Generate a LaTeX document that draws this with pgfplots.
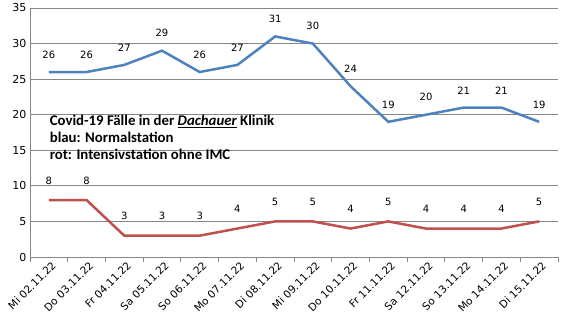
\documentclass[border=0pt]{standalone}
\usepackage{pgfplots}
\pgfplotsset{compat=1.18}
\usepackage{fontspec}
\setmainfont{DejaVu Sans}
\newfontfamily\boxfont{Carlito}
\definecolor{xlblue}{HTML}{4F81BD}
\definecolor{xlred}{HTML}{C0504D}
\definecolor{gridgray}{HTML}{868686}
\begin{document}
\begin{tikzpicture}
\path[use as bounding box] (-30pt,-74pt) rectangle (535pt,257pt);
\begin{axis}[
  at={(0,0)}, anchor=origin,
  scale only axis, width=528pt, height=249pt,
  xmin=0, xmax=14, ymin=0, ymax=35,
  ytick={0,5,...,35},
  ymajorgrids, major grid style={gridgray, line width=0.8pt},
  xtick={0.5,1.5,...,13.5},
  xticklabels={Mi 02.11.22,Do 03.11.22,Fr 04.11.22,Sa 05.11.22,So 06.11.22,Mo 07.11.22,Di 08.11.22,Mi 09.11.22,Do 10.11.22,Fr 11.11.22,Sa 12.11.22,So 13.11.22,Mo 14.11.22,Di 15.11.22},
  x tick label style={rotate=45, anchor=north east, font=\fontsize{10.5}{12}\selectfont, inner sep=1pt, yshift=-3pt},
  y tick label style={font=\fontsize{11}{13}\selectfont},
  minor xtick={0,1,...,14},
  major tick length=0pt,
  minor tick length=5pt,
  tick align=outside,
  xtick pos=bottom, ytick pos=left,
  every minor tick/.style={gridgray, line width=0.8pt},
  axis x line*=bottom, axis y line*=left,
  axis line style={gridgray, line width=0.8pt},
  /pgf/number format/assume math mode=true,
  clip=false,
  nodes near coords,
  every node near coord/.style={font=\fontsize{10}{12}\selectfont, black, anchor=south},
]
\addplot[xlblue, line width=2.5pt, every node near coord/.append style={yshift=9pt}] coordinates {
(0.5,26) (1.5,26) (2.5,27) (3.5,29) (4.5,26) (5.5,27) (6.5,31) (7.5,30) (8.5,24) (9.5,19) (10.5,20) (11.5,21) (12.5,21) (13.5,19)};
\addplot[xlred, line width=2.5pt, every node near coord/.append style={yshift=11pt}] coordinates {
(0.5,8) (1.5,8) (2.5,3) (3.5,3) (4.5,3) (5.5,4) (6.5,5) (7.5,5) (8.5,4) (9.5,5) (10.5,4) (11.5,4) (12.5,4) (13.5,5)};
\node[anchor=north west, align=left, font=\boxfont\bfseries\fontsize{14.8}{17}\selectfont, inner sep=0pt] at (axis cs:0.52,20.0)
{Covid-19 Fälle in der \underline{\itshape Dachauer} Klinik\\blau: Normalstation\\rot: Intensivstation ohne IMC};
\end{axis}
\end{tikzpicture}
\end{document}
